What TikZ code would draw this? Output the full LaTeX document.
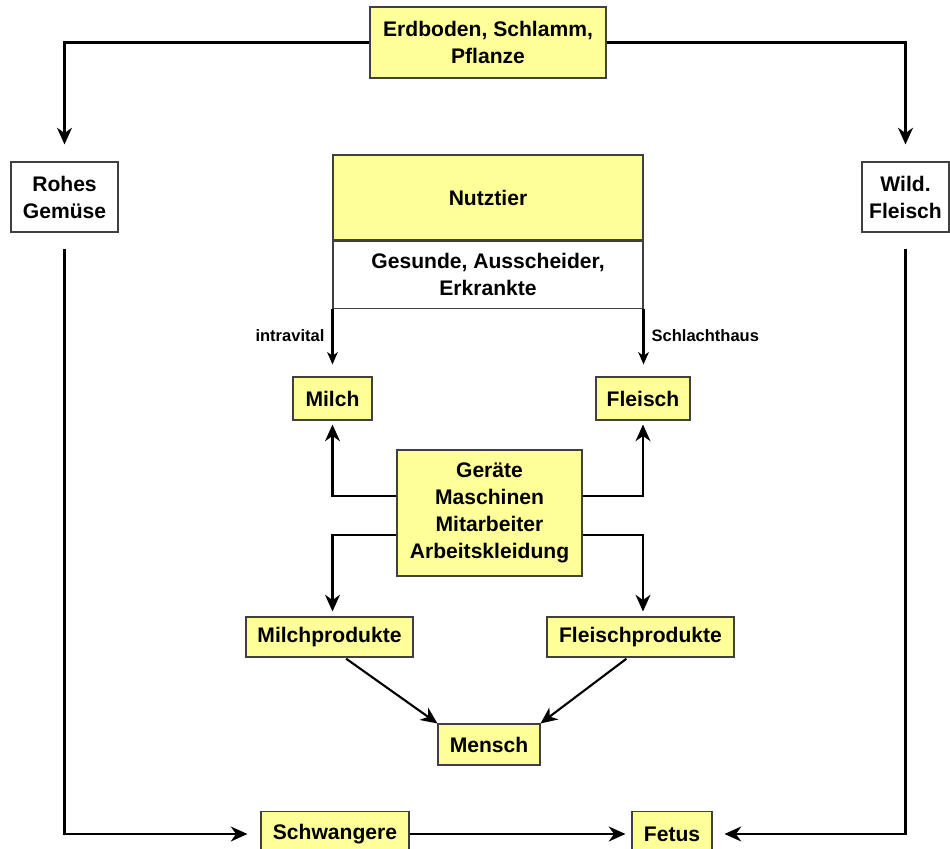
\documentclass[tikz,border=0pt]{standalone}
\usepackage{fontspec}
\setmainfont{Liberation Sans}
\usetikzlibrary{arrows.meta}
\definecolor{boxyellow}{HTML}{FFFF99}
\tikzset{
	box/.style={draw=black!75, line width=0.6pt, inner sep=0pt, align=center,
		font=\fontsize{12}{15.4}\selectfont\bfseries},
	ybox/.style={box, fill=boxyellow},
	wbox/.style={box, fill=white},
	flow/.style={draw=black, line width=1.2pt, -{Stealth[length=9.5pt,width=8.5pt,inset=3pt]}},
	smallflow/.style={flow, -{Stealth[length=7pt,width=6pt,inset=2pt]}},
	tag/.style={font=\fontsize{9.4}{11}\selectfont\bfseries, inner sep=4pt}
}
\begin{document}
\begin{tikzpicture}
	\useasboundingbox (0,0) rectangle (19,-16.98);
	% sources
	\node[ybox, minimum width=4.72cm, minimum height=1.42cm] (erd) at (9.76,-0.85) {Erdboden, Schlamm,\\Pflanze};
	\node[wbox, minimum width=2.14cm, minimum height=1.4cm] (rohes) at (1.29,-3.94) {Rohes\\Gemüse};
	\node[wbox, minimum width=1.74cm, minimum height=1.4cm] (wild) at (18.11,-3.94) {Wild.\\Fleisch};
	% animal
	\node[ybox, minimum width=6.2cm, minimum height=1.7cm] (nutz) at (9.76,-3.95) {Nutztier};
	\node[wbox, minimum width=6.2cm, minimum height=1.34cm, anchor=north] (ges) at (nutz.south) {Gesunde, Ausscheider,\\Erkrankte};
	% products
	\node[ybox, minimum width=1.58cm, minimum height=0.86cm] (milch) at (6.65,-7.97) {Milch};
	\node[ybox, minimum width=1.88cm, minimum height=0.86cm] (fleisch) at (12.86,-7.97) {Fleisch};
	\node[ybox, minimum width=3.7cm, minimum height=2.52cm] (geraete) at (9.79,-10.26) {Geräte\\Maschinen\\Mitarbeiter\\Arbeitskleidung};
	\node[ybox, minimum width=3.34cm, minimum height=0.8cm] (mprod) at (6.59,-12.74) {Milchprodukte};
	\node[ybox, minimum width=3.74cm, minimum height=0.8cm] (fprod) at (12.81,-12.74) {Fleischprodukte};
	\node[ybox, minimum width=2.04cm, minimum height=0.82cm] (mensch) at (9.78,-14.89) {Mensch};
	\node[ybox, minimum width=2.96cm, minimum height=0.9cm] (schw) at (6.7,-16.68) {Schwangere};
	\node[ybox, minimum width=1.6cm, minimum height=0.9cm] (fetus) at (13.44,-16.68) {Fetus};
	% connectors
	\draw[flow, shorten >=0.34cm] (erd.west) -| (rohes.north);
	\draw[flow, shorten >=0.34cm] (erd.east) -| (wild.north);
	\draw[flow, shorten <=0.32cm, shorten >=0.26cm] (rohes.south) |- (schw.west);
	\draw[flow, shorten <=0.32cm, shorten >=0.24cm] (wild.south) |- (fetus.east);
	\draw[flow, shorten >=0.12cm] (schw.east) -- (fetus.west);
	\draw[smallflow, shorten >=0.24cm] (ges.south west) -- (ges.south west |- milch.north) node[pos=0.4, left, tag] {intravital};
	\draw[smallflow, shorten >=0.24cm] (ges.south east) -- (ges.south east |- fleisch.north) node[pos=0.4, right, tag] {Schlachthaus};
	\draw[flow, shorten >=0.08cm] ([yshift=0.34cm]geraete.west) -| (milch.south);
	\draw[flow, shorten >=0.08cm] ([yshift=0.34cm]geraete.east) -| (fleisch.south);
	\draw[flow, shorten >=0.1cm] ([yshift=-0.44cm]geraete.west) -| (milch.south |- mprod.north);
	\draw[flow, shorten >=0.1cm] ([yshift=-0.44cm]geraete.east) -| (fleisch.south |- fprod.north);
	\draw[flow, shorten <=0.04cm] ([xshift=0.3cm]mprod.south) -- (mensch.north west);
	\draw[flow, shorten <=0.04cm] ([xshift=-0.25cm]fprod.south) -- (mensch.north east);
\end{tikzpicture}
\end{document}
